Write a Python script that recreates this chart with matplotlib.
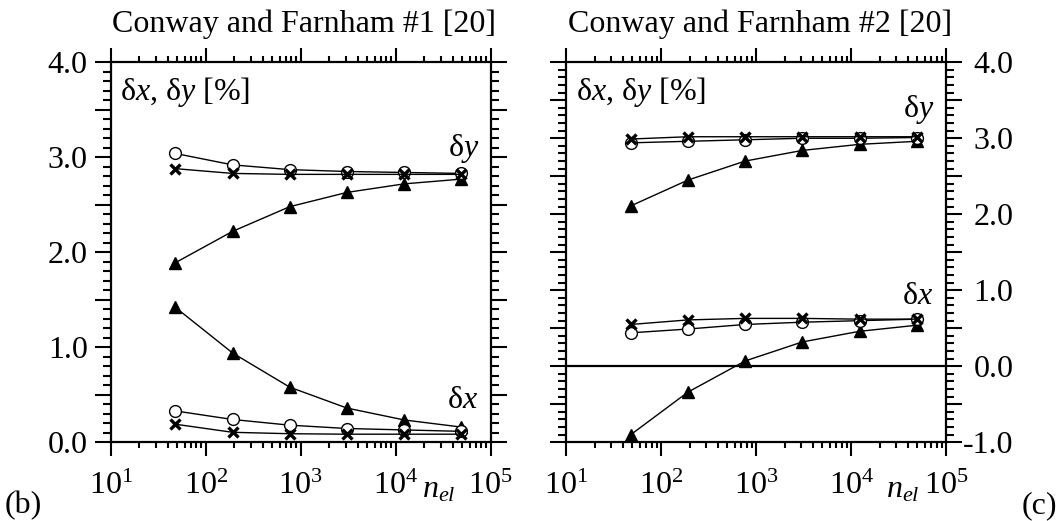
import math
import matplotlib
matplotlib.use("Agg")
import matplotlib.pyplot as plt
from matplotlib.ticker import MultipleLocator, LogLocator, FuncFormatter, NullFormatter

plt.rcParams["font.family"] = ["Liberation Serif", "DejaVu Serif"]
plt.rcParams["mathtext.fontset"] = "custom"
plt.rcParams["mathtext.rm"] = "Liberation Serif"
plt.rcParams["mathtext.it"] = "Liberation Serif:italic"
plt.rcParams["axes.unicode_minus"] = False

# number of elements
n_el = [48, 192, 768, 3072, 12288, 49152]

# case 1
c1_dy_circle = [3.04, 2.92, 2.87, 2.85, 2.84, 2.83]
c1_dy_cross = [2.88, 2.83, 2.82, 2.82, 2.82, 2.82]
c1_dy_tri = [1.89, 2.22, 2.48, 2.63, 2.72, 2.77]
c1_dx_tri = [1.42, 0.94, 0.58, 0.36, 0.235, 0.16]
c1_dx_circle = [0.33, 0.24, 0.18, 0.145, 0.13, 0.115]
c1_dx_cross = [0.19, 0.105, 0.09, 0.085, 0.085, 0.085]

# case 2
c2_dy_cross = [2.99, 3.02, 3.02, 3.02, 3.02, 3.02]
c2_dy_circle = [2.94, 2.96, 2.98, 3.0, 3.0, 3.01]
c2_dy_tri = [2.11, 2.45, 2.70, 2.84, 2.92, 2.96]
c2_dx_cross = [0.55, 0.61, 0.63, 0.63, 0.62, 0.62]
c2_dx_circle = [0.44, 0.49, 0.55, 0.58, 0.60, 0.62]
c2_dx_tri = [-0.90, -0.34, 0.07, 0.32, 0.46, 0.54]

titles = ["Conway and Farnham #1 [20]", "Conway and Farnham #2 [20]"]
panel_tags = ["(b)", "(c)"]

FS = 23

fig = plt.figure(figsize=(10.59, 5.21), dpi=100)
ax1 = fig.add_axes([0.1045, 0.1511, 0.3588, 0.7294])
ax2 = fig.add_axes([0.5345, 0.1511, 0.3588, 0.7294])


def draw_series(ax, tri, circ, cross):
    ax.plot(n_el, tri, color="black", lw=1.0, marker="^", ms=9,
            mfc="black", mec="black", zorder=3)
    ax.plot(n_el, circ, color="black", lw=1.0, marker="o", ms=8.5,
            mfc="white", mec="black", mew=1.0, zorder=4)
    ax.plot(n_el, cross, color="black", lw=1.0, marker="x", ms=7.5,
            mec="black", mew=2.4, zorder=5)


draw_series(ax1, c1_dy_tri, c1_dy_circle, c1_dy_cross)
draw_series(ax1, c1_dx_tri, c1_dx_circle, c1_dx_cross)
draw_series(ax2, c2_dy_tri, c2_dy_circle, c2_dy_cross)
draw_series(ax2, c2_dx_tri, c2_dx_circle, c2_dx_cross)
ax2.axhline(0.0, color="black", lw=1.6, zorder=2)


def ylab(v, pos):
    if abs(v - round(v)) < 1e-6:
        return "%.1f" % v
    return ""


def xlab(v, pos):
    e = int(round(math.log10(v)))
    return r"$10^{%d}$" % e


for ax, ylim in ((ax1, (0.0, 4.0)), (ax2, (-1.0, 4.0))):
    ax.set_xscale("log")
    ax.set_xlim(10, 1e5)
    ax.set_ylim(*ylim)
    ax.xaxis.set_major_locator(LogLocator(base=10, numticks=10))
    ax.xaxis.set_minor_locator(LogLocator(base=10, subs=range(2, 10), numticks=10))
    ax.xaxis.set_major_formatter(FuncFormatter(xlab))
    ax.xaxis.set_minor_formatter(NullFormatter())
    ax.yaxis.set_major_locator(MultipleLocator(0.5))
    ax.yaxis.set_minor_locator(MultipleLocator(0.1))
    ax.yaxis.set_major_formatter(FuncFormatter(ylab))
    for sp in ax.spines.values():
        sp.set_linewidth(1.6)
    ax.tick_params(which="both", direction="out", top=True, right=True,
                   bottom=True, left=True, width=1.5, labelsize=FS)
    ax.tick_params(axis="y", which="major", length=11.5, pad=5)
    ax.tick_params(axis="y", which="minor", length=5.8)
    ax.tick_params(axis="x", which="major", length=10, pad=11)
    ax.tick_params(axis="x", which="minor", length=4.5)

ax1.tick_params(axis="y", labelleft=True, labelright=False)
ax2.tick_params(axis="y", labelleft=False, labelright=True, pad=37)
for lab in ax2.get_yticklabels():
    lab.set_horizontalalignment("right")

for ax, title in zip((ax1, ax2), titles):
    ax.text(0.51, 1.0 + 30 / 380, title, transform=ax.transAxes,
            ha="center", va="baseline", fontsize=FS)
    ax.text(0.025, 1.0 - 38 / 380, r"δ$x$, δ$y$ [%]", transform=ax.transAxes,
            ha="left", va="baseline", fontsize=FS)

# curve labels
ax1.text(0.97, 1.0 - 94 / 380, r"δ$y$", transform=ax1.transAxes,
         ha="right", va="baseline", fontsize=FS)
ax1.text(0.968, 1.0 - 346 / 380, r"δ$x$", transform=ax1.transAxes,
         ha="right", va="baseline", fontsize=FS)
ax2.text(0.97, 1.0 - 55 / 380, r"δ$y$", transform=ax2.transAxes,
         ha="right", va="baseline", fontsize=FS)
ax2.text(0.965, 1.0 - 242 / 380, r"δ$x$", transform=ax2.transAxes,
         ha="right", va="baseline", fontsize=FS)

# horizontal axis labels
ax1.text(311 / 380, -55 / 380, r"$n_{el}$", transform=ax1.transAxes,
         ha="left", va="baseline", fontsize=FS)
ax2.text(320 / 380, -55 / 380, r"$n_{el}$", transform=ax2.transAxes,
         ha="left", va="baseline", fontsize=FS)

fig.text(5 / 1059, 1 - 513 / 521, panel_tags[0], ha="left", va="baseline", fontsize=FS)
fig.text(1057 / 1059, 1 - 513 / 521, panel_tags[1], ha="right", va="baseline", fontsize=FS)

fig.savefig("out.png", dpi=100)
